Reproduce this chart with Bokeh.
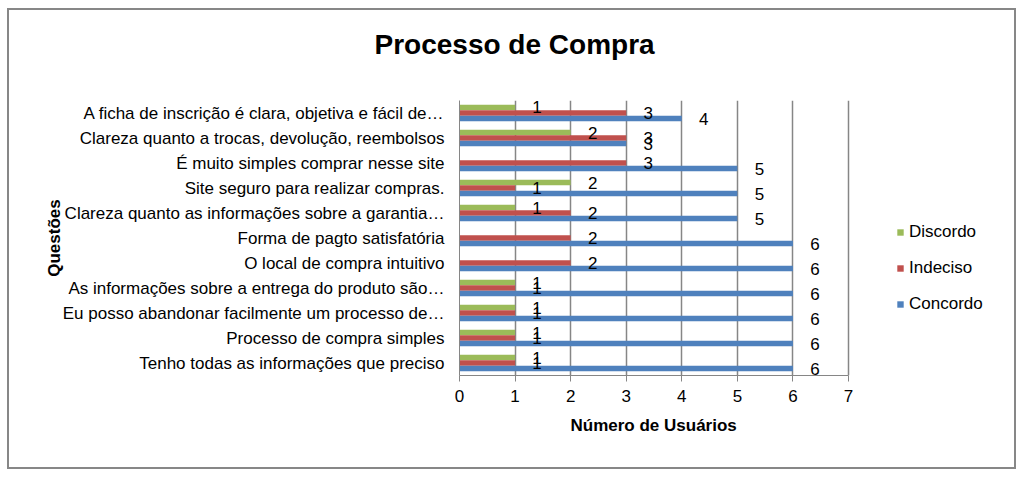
from bokeh.plotting import figure
from bokeh.models import (ColumnDataSource, FactorRange, Range1d, Legend, LegendItem,
                          Title, FixedTicker)
from bokeh.transform import dodge
from bokeh.core.properties import value
from bokeh.embed import file_html
from bokeh.resources import INLINE

questions = [
    "A ficha de inscrição é clara, objetiva e fácil de…",
    "Clareza quanto a trocas, devolução, reembolsos",
    "É muito simples comprar nesse site",
    "Site seguro para realizar compras.",
    "Clareza quanto as informações sobre a garantia…",
    "Forma de pagto satisfatória",
    "O local de compra intuitivo",
    "As informações sobre a entrega do produto são…",
    "Eu posso abandonar facilmente um processo de…",
    "Processo de compra simples",
    "Tenho todas as informações que preciso",
]
discordo = [1, 2, 0, 2, 1, 0, 0, 1, 1, 1, 1]
indeciso = [3, 3, 3, 1, 2, 2, 2, 1, 1, 1, 1]
concordo = [4, 3, 5, 5, 5, 6, 6, 6, 6, 6, 6]
series_names = ["Discordo", "Indeciso", "Concordo"]
colors = ["#9BBB59", "#C0504D", "#4F81BD"]
x_ticks = [0, 1, 2, 3, 4, 5, 6, 7]
x_max = 7

FONT = "Liberation Sans"
FS = "17px"
W, H = 1024, 480
F_LEFT, F_AXIS_RIGHT, F_TOP, F_BOTTOM = 459, 848, 100, 375
F_RIGHT = 1010  # frame extends right so the legend can sit inside it
x_end = x_max * (F_RIGHT - F_LEFT) / (F_AXIS_RIGHT - F_LEFT)

p = figure(width=W, height=H, output_backend="svg", toolbar_location=None,
           y_range=FactorRange(factors=list(reversed(questions)), range_padding=0),
           x_range=Range1d(0, x_end),
           min_border_left=F_LEFT, min_border_right=W - F_RIGHT,
           min_border_top=F_TOP, min_border_bottom=H - F_BOTTOM)
p.outline_line_color = None
p.background_fill_color = "white"
p.border_fill_alpha = 0
p.styles = {
    "background-color": "white",
    "background-image": ("linear-gradient(#878787,#878787), linear-gradient(#878787,#878787), "
                         "linear-gradient(#878787,#878787), linear-gradient(#878787,#878787)"),
    "background-size": "1009px 2px, 1009px 2px, 2px 461px, 2px 461px",
    "background-position": "7px 8px, 7px 467px, 7px 8px, 1014px 8px",
    "background-repeat": "no-repeat",
}

src = ColumnDataSource(dict(q=questions, d=discordo, i=indeciso, c=concordo))
offsets = [0.22, 0.0, -0.22]
cols = ["d", "i", "c"]
renderers = []
for col, off, color in zip(cols, offsets, colors):
    r = p.hbar(y=dodge("q", off, range=p.y_range), right=col, left=0, height=0.22,
               source=src, fill_color=color, line_color=None)
    renderers.append(r)

# data labels (nonzero only)
for col, off, vals in zip(cols, offsets, [discordo, indeciso, concordo]):
    qs = [q for q, v in zip(questions, vals) if v > 0]
    vs = [v for v in vals if v > 0]
    lsrc = ColumnDataSource(dict(q=qs, v=vs, t=[str(v) for v in vs]))
    p.text(x="v", y=dodge("q", off, range=p.y_range), text="t", source=lsrc,
           x_offset=22, text_align="center", text_baseline="middle",
           text_font_size=FS, text_color="#000000", text_font=value(FONT))

# axes
p.xaxis.ticker = FixedTicker(ticks=x_ticks)
p.xaxis.bounds = (0, x_max)
p.xaxis.axis_line_color = "#868686"
p.xaxis.major_tick_line_color = "#868686"
p.xaxis.major_tick_out = 6
p.xaxis.major_tick_in = 0
p.xaxis.minor_tick_line_color = None
p.xaxis.major_label_standoff = 8
p.xaxis.major_label_text_font = FONT
p.xaxis.major_label_text_font_size = FS
p.xaxis.major_label_text_color = "#000000"

p.yaxis.axis_line_color = "#868686"
p.yaxis.major_tick_line_color = None
p.yaxis.minor_tick_line_color = None
p.yaxis.major_label_standoff = 9
p.yaxis.major_label_text_font = FONT
p.yaxis.major_label_text_font_size = FS
p.yaxis.major_label_text_color = "#000000"
p.yaxis.axis_label = "Questões"
p.yaxis.axis_label_standoff = -4
p.yaxis.axis_label_text_font = FONT
p.yaxis.axis_label_text_font_size = FS
p.yaxis.axis_label_text_font_style = "bold"
p.yaxis.axis_label_text_color = "#000000"

p.xgrid.ticker = FixedTicker(ticks=x_ticks)
p.xgrid.grid_line_color = "#868686"
p.xgrid.grid_line_width = 1.5
p.ygrid.grid_line_color = None

# legend (inside the extended frame, right of the x axis)
legend = Legend(items=[LegendItem(label=n, renderers=[r]) for n, r in zip(series_names, renderers)],
                location=(437, 61), glyph_width=8, glyph_height=8, label_height=20,
                spacing=16, padding=0, margin=0, label_standoff=5,
                border_line_color=None, background_fill_alpha=0,
                label_text_font=FONT, label_text_font_size=FS, label_text_color="#000000")
p.add_layout(legend, "center")

# x axis title, centred under the 0-7 axis
xtitle = Title(text="Número de Usuários", align="left", offset=111, standoff=18,
               text_font=FONT, text_font_size=FS, text_font_style="bold",
               text_color="#000000")
p.add_layout(xtitle, "below")

# spacer between frame and chart title, then the chart title
spacer = Title(text=" ", text_font_size="1px", standoff=38)
p.add_layout(spacer, "above")
title = Title(text="Processo de Compra", align="left", offset=-85, standoff=0,
              text_font=FONT, text_font_size="28px", text_font_style="bold",
              text_color="#000000")
p.add_layout(title, "above")

open("out.html", "w").write(file_html(p, INLINE))
